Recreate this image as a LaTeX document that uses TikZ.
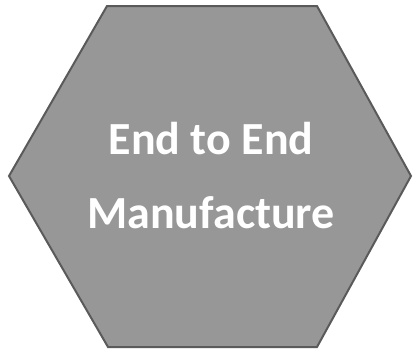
\documentclass[tikz,border=0pt]{standalone}
\usepackage{fontspec}
\setmainfont{Carlito}
\definecolor{hexfill}{HTML}{979797}
\definecolor{hexline}{HTML}{5A5A5A}
\begin{document}
\begin{tikzpicture}[x=1pt,y=-1pt,
  hexstyle/.style={fill=hexfill,draw=hexline,line width=2pt,line join=miter},
  labelstyle/.style={text=white,font=\fontsize{46}{74}\selectfont\bfseries,align=center}]
\useasboundingbox (0,0) rectangle (413,349);
\draw[hexstyle] (107,6) -- (317,6) -- (411,176) -- (317,347) -- (108,347) -- (9,176) -- cycle;
\node[labelstyle] (lbl) at (211,176) {End to End\\Manufacture};
\end{tikzpicture}
\end{document}
